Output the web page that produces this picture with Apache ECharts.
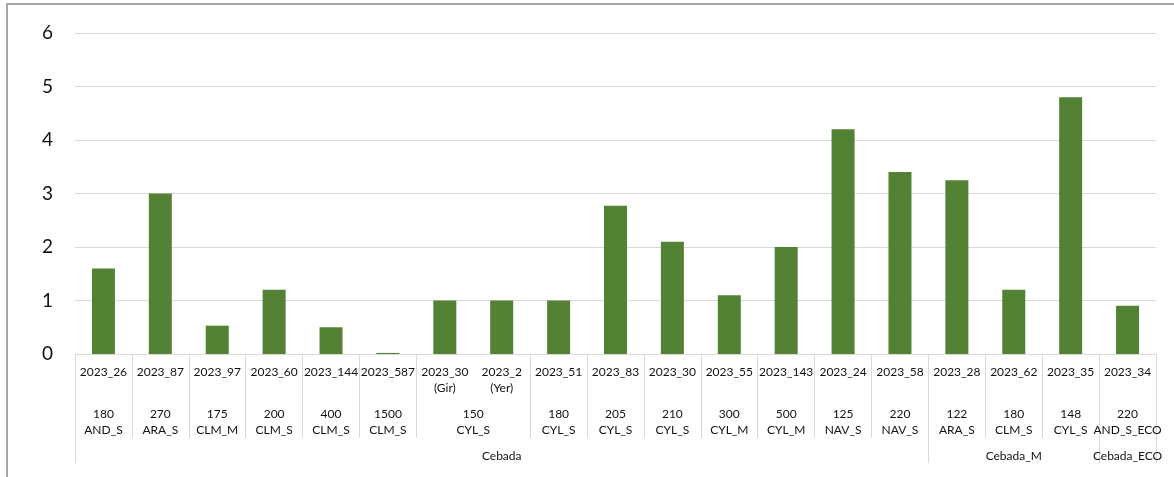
<!DOCTYPE html>
<html>
<head>
<meta charset="utf-8">
<script src="https://cdn.jsdelivr.net/npm/echarts@6/dist/echarts.min.js"></script>
<style>
  html, body { margin: 0; padding: 0; background: #fff; }
  #chart { width: 1174px; height: 477px; }
  #frame { position: absolute; left: 6px; top: 3px; width: 1300px; height: 600px;
           border-left: 2px solid #a6a6a6; border-top: 2px solid #a6a6a6; pointer-events: none; }
</style>
</head>
<body>
<div id="chart"></div>
<div id="frame"></div>
<script>
// level 1: trial codes
const codes = ['2023_26', '2023_87', '2023_97', '2023_60', '2023_144', '2023_587',
  '2023_30\n(Gir)', '2023_2\n(Yer)', '2023_51', '2023_83', '2023_30', '2023_55', '2023_143',
  '2023_24', '2023_58', '2023_28', '2023_62', '2023_35', '2023_34'];
const values = [1.6, 3.0, 0.53, 1.2, 0.5, 0.02, 1.0, 1.0, 1.0, 2.77, 2.1, 1.1, 2.0,
  4.2, 3.4, 3.25, 1.2, 4.8, 0.9];

// level 2: dose + zone (150 CYL_S covers two codes)
const doses = ['180', '270', '175', '200', '400', '1500', '150', '180', '205', '210', '300', '500',
  '125', '220', '122', '180', '148', '220'];
const zones = ['AND_S', 'ARA_S', 'CLM_M', 'CLM_S', 'CLM_S', 'CLM_S', 'CYL_S', 'CYL_S', 'CYL_S',
  'CYL_S', 'CYL_M', 'CYL_M', 'NAV_S', 'NAV_S', 'ARA_S', 'CLM_S', 'CYL_S', 'AND_S_ECO'];
const zoneSpans = [1, 1, 1, 1, 1, 1, 2, 1, 1, 1, 1, 1, 1, 1, 1, 1, 1, 1];

// level 3: crop
const crops = ['Cebada', 'Cebada_M', 'Cebada_ECO'];
const cropSpans = [15, 3, 1];

const yTicks = [0, 1, 2, 3, 4, 5, 6];

// group boundaries / centres on a 0..N scale
function groups(spans, names) {
  const edges = [0], centres = [], lookup = {};
  let pos = 0;
  spans.forEach((s, i) => {
    const c = pos + s / 2;
    centres.push(c);
    lookup[c] = names[i];
    pos += s;
    edges.push(pos);
  });
  return { edges, centres, lookup };
}
const lvl2 = groups(zoneSpans, doses.map((d, i) => d + '\n' + zones[i]));
const lvl3 = groups(cropSpans, crops);
const N = codes.length;

const font = 'Lato, "Noto Sans", sans-serif';
const gridCol = '#d9d9d9';

const chart = echarts.init(document.getElementById('chart'));
chart.setOption({
  animation: false,
  grid: { left: 75, right: 18, top: 33, bottom: 123, containLabel: false },
  xAxis: [
    {
      type: 'category', data: codes, position: 'bottom',
      axisLine: { lineStyle: { color: gridCol, width: 1 } },
      axisTick: { show: false },
      axisLabel: { interval: 0, margin: 10, color: '#111', fontSize: 12, fontFamily: font, lineHeight: 16 }
    },
    {
      type: 'value', min: 0, max: N, position: 'bottom',
      axisLine: { show: false }, splitLine: { show: false },
      axisTick: { show: true, customValues: lvl2.edges, length: 84, lineStyle: { color: gridCol } },
      axisLabel: {
        customValues: lvl2.centres, margin: 52, color: '#111', fontSize: 12, fontFamily: font, lineHeight: 16,
        formatter: v => lvl2.lookup[v] || ''
      }
    },
    {
      type: 'value', min: 0, max: N, position: 'bottom',
      axisLine: { show: false }, splitLine: { show: false },
      axisTick: { show: true, customValues: lvl3.edges, length: 109, lineStyle: { color: gridCol } },
      axisLabel: {
        customValues: lvl3.centres, margin: 94, color: '#111', fontSize: 12, fontFamily: font, lineHeight: 16,
        formatter: v => lvl3.lookup[v] || ''
      }
    }
  ],
  yAxis: {
    type: 'value', min: yTicks[0], max: yTicks[yTicks.length - 1], interval: 1,
    axisLine: { show: false }, axisTick: { show: false },
    axisLabel: { color: '#111', fontSize: 19, fontFamily: font, margin: 22 },
    splitLine: { lineStyle: { color: gridCol, width: 1 } }
  },
  series: [{
    type: 'bar', xAxisIndex: 0, yAxisIndex: 0,
    data: values, barWidth: 23,
    itemStyle: { color: '#548235' }
  }]
});
</script>
</body>
</html>
